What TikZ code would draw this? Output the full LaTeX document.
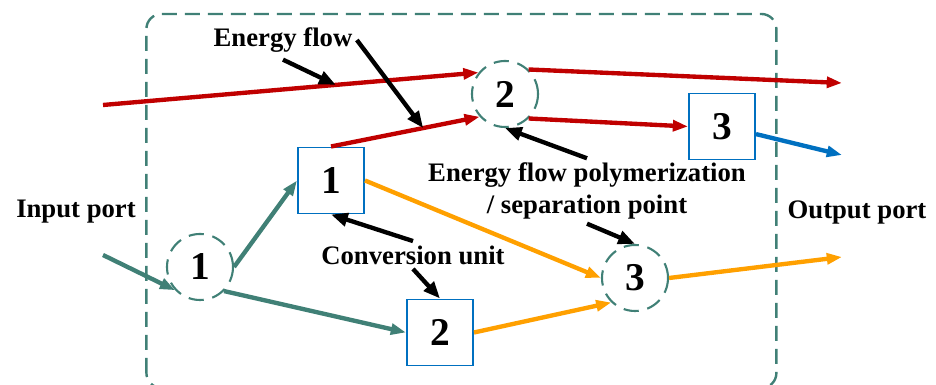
\documentclass[tikz,border=0pt]{standalone}
\usepackage{fontspec}
\setmainfont{Liberation Serif}
\usetikzlibrary{arrows.meta}

\definecolor{flowred}{RGB}{192,0,0}
\definecolor{flowteal}{RGB}{64,128,118}
\definecolor{flowblue}{RGB}{0,112,192}
\definecolor{floworange}{RGB}{255,160,0}

\begin{document}
\begin{tikzpicture}[
    font=\bfseries\fontsize{19}{22.7}\selectfont,
    hub/.style={circle, draw=flowteal, line width=1.5pt, dash pattern=on 3.8mm off 2.2mm,
        minimum size=1.65cm, inner sep=0pt, font=\bfseries\fontsize{28}{30}\selectfont},
    unit/.style={rectangle, draw=flowblue, line width=1.4pt,
        minimum size=1.65cm, inner sep=0pt, font=\bfseries\fontsize{28}{30}\selectfont},
    flow/.style={line width=3.1pt, -{Triangle[length=3.8mm,width=2.7mm]}},
    note/.style={line width=3.1pt, black, -{Triangle[length=4.2mm,width=3.3mm]}},
    label/.style={inner sep=3pt}
]
    \useasboundingbox (0,0) rectangle (23.4,9.625);

    % Boundary of the system
    \draw[flowteal, line width=1.7pt, dash pattern=on 3.75mm off 2mm, rounded corners=0.375cm]
        (3.66,-0.075) rectangle (19.41,9.275);

    % Polymerization / separation points and conversion units
    \foreach \name/\x/\y/\num in {c1/5.0/2.95/1, c2/12.625/7.275/2, c3/15.875/2.675/3}
        \node[hub] (\name) at (\x,\y) {\num};
    \foreach \name/\x/\y/\num in {b1/8.275/5.1125/1, b2/11.0/1.3125/2, b3/18.05/6.4625/3}
        \node[unit] (\name) at (\x,\y) {\num};

    % Ports
    \coordinate (redin) at (2.575,7.0);
    \coordinate (tealin) at (2.575,3.25);
    \coordinate (redout) at (21.05,7.55);
    \coordinate (blueout) at (21.05,5.75);
    \coordinate (orangeout) at (21.05,3.2);

    % Energy flows
    \draw[flow, flowred] (redin) -- coordinate[pos=0.62] (ef1) (c2.141);
    \draw[flow, flowred] (b1.north) -- coordinate[pos=0.62] (ef2) (c2.222);
    \draw[flow, flowred] (c2.46) -- (redout);
    \draw[flow, flowred] (c2.314) -- (b3.west);
    \draw[flow, flowblue] ([yshift=-0.19cm]b3.east) -- (blueout);

    \draw[flow, flowteal] (tealin) -- (c1.223);
    \draw[flow, flowteal] (c1.east) -- (b1.west);
    \draw[flow, flowteal] (c1.-45) -- (b2.west);

    \draw[flow, floworange] (b1.east) -- (c3.west);
    \draw[flow, floworange] (b2.east) -- (c3.226);
    \draw[flow, floworange] (c3.east) -- (orangeout);

    % Labels
    \node[label] (ef) at (7.075,8.625) {Energy flow};
    \node[label, align=center] (sp) at (14.675,4.85) {Energy flow polymerization\\/ separation point};
    \node[label] (cu) at (10.325,3.25) {Conversion unit};
    \node[label] (inp) at (1.9,4.325) {Input port};
    \node[label] (outp) at (21.425,4.3) {Output port};

    \draw[note] ([yshift=-2pt]ef.south) -- (ef1);
    \draw[note] (ef.east) -- (ef2);
    \draw[note] (sp.north) -- (c2.south);
    \draw[note] (sp.south) -- (c3.north);
    \draw[note] (cu.north) -- (b1.south);
    \draw[note] (cu.south) -- (b2.north);
\end{tikzpicture}
\end{document}
